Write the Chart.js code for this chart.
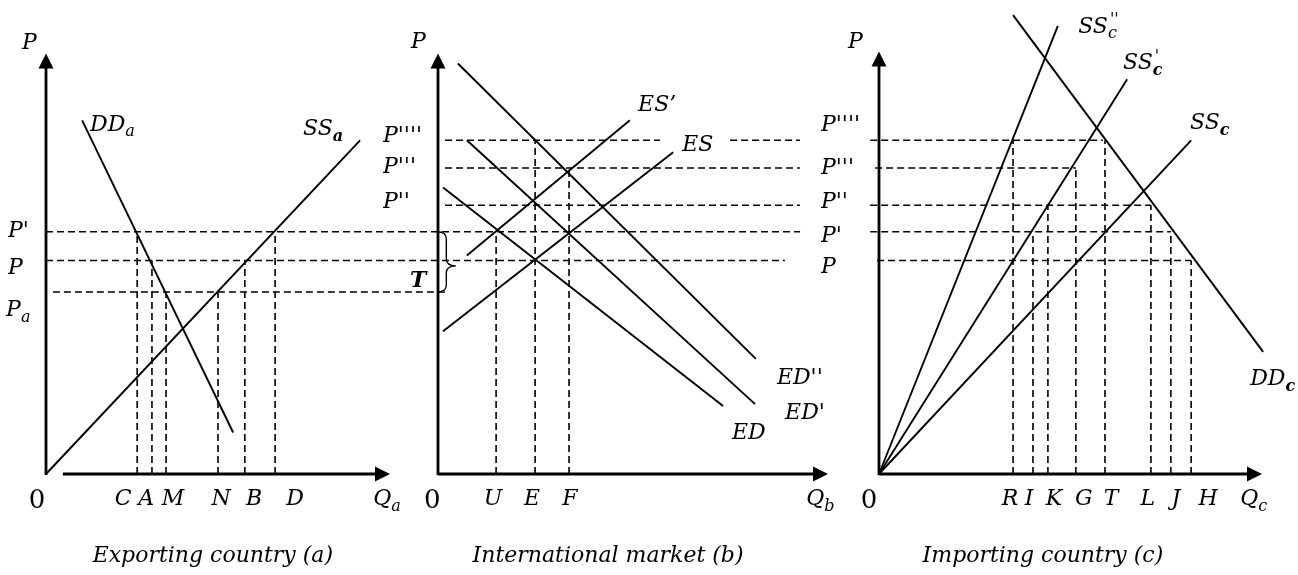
<!DOCTYPE html>
<html>
<head>
<meta charset="utf-8">
<script src="https://cdn.jsdelivr.net/npm/chart.js@4.4.1/dist/chart.umd.min.js"></script>
<style>
  body { margin: 0; background: #fff; }
  .wrap { position: relative; width: 1298px; height: 575px; }
  .wrap canvas { position: absolute; left: 0; top: 0; }
</style>
</head>
<body>
<div class="wrap">
  <canvas id="panelA" width="1298" height="575"></canvas>
  <canvas id="panelB" width="1298" height="575"></canvas>
  <canvas id="panelC" width="1298" height="575"></canvas>
</div>
<script>
// ---- panel (a): exporting country ----
var aSupply = [[0, 0], [91.3, 86.9]];           // SS_a
var aDemand = [[10.5, 92.1], [54.4, 10.8]];     // DD_a
// [price, from Q, to Q]
var aPriceLines = [[63.1, 0, 219.2], [55.6, 0, 214.8], [47.4, 2.0, 116.6]];
// [Q, up to price]
var aQtyLines = [[26.5, 63.1], [30.8, 55.6], [34.9, 47.4], [50.0, 47.4], [57.8, 55.6], [66.6, 63.1]];
var aTickNames = ['0', 'C', 'A', 'M', 'N', 'B', 'D'];
var aTickAt = [-2.6, 22.4, 29.1, 36.9, 50.9, 60.5, 72.4];
var aPriceNames = ["P'", 'P'];
var aPriceAt = [63.3, 53.6];
// [text, sub, sup, Q, P]
var aLabels = [['P', '', '', -7.0, 112.1], ['DD', 'a', '', 12.8, 90.8], ['SS', 'a', '', 74.7, 89.7],
               ['P', 'a', '', -11.6, 42.6], ['Q', 'a', '', 95.1, -6.7]];
var aTitle = ['Exporting country (a)', 48.5, -21.5];

// ---- panel (b): international market ----
var bSupply = [[1.3, 37.2], [60.3, 83.8]];      // ES
var bSupply1 = [[7.4, 56.9], [49.2, 92.1]];     // ES'
var bDemand = [[1.3, 74.6], [73.1, 17.7]];      // ED
var bDemand1 = [[7.4, 86.9], [81.3, 18.2]];     // ED'
var bDemand2 = [[5.1, 106.9], [81.5, 30.0]];    // ED''
var bPriceLines = [[86.9, 1.8, 56.9], [86.9, 74.9, 92.8], [79.7, 1.8, 92.8], [70.0, 1.8, 92.8]];
var bQtyLines = [[14.9, 63.1], [24.9, 86.9], [33.6, 79.7]];
var bTickNames = ['0', 'U', 'E', 'F'];
var bTickAt = [-1.5, 14.1, 24.1, 33.8];
var bPriceNames = ["P''''", "P'''", "P''"];
var bPriceAt = [87.9, 80.0, 70.8];
var bLabels = [['P', '', '', -6.9, 112.3], ['ES’', '', '', 51.3, 95.9], ['ES', '', '', 62.6, 85.6],
               ["ED''", '', '', 86.9, 24.9], ["ED'", '', '', 89.0, 15.9], ['ED', '', '', 75.4, 10.5],
               ['Q', 'b', '', 94.4, -6.7], ['T', '', '', -7.2, 50.3]];
var bTitle = ['International market (b)', 43.6, -21.5];

// ---- panel (c): importing country ----
var cSupply = [[0, 0], [81.5, 86.9]];           // SS_c
var cSupply1 = [[0, 0], [64.8, 102.8]];         // SS'_c
var cSupply2 = [[0, 0], [46.7, 116.7]];         // SS''_c
var cDemand = [[35.0, 119.5], [100.3, 31.8]];   // DD_c
var cPriceLines = [[86.9, -2.3, 58.5], [79.7, -1.0, 51.4], [70.0, -2.3, 71.0], [63.1, -2.3, 76.2], [55.6, -0.5, 81.5]];
var cQtyLines = [[35.0, 86.9], [40.2, 63.1], [44.1, 70.0], [51.4, 79.7], [59.0, 86.9], [71.0, 70.0], [76.2, 63.1], [81.5, 55.6]];
var cTickNames = ['0', 'R', 'I', 'K', 'G', 'T', 'L', 'J', 'H'];
var cTickAt = [-2.6, 34.2, 39.2, 45.7, 53.5, 60.6, 70.2, 77.5, 85.9];
var cPriceNames = ["P''''", "P'''", "P''", "P'", 'P'];
var cPriceAt = [90.8, 79.5, 70.8, 61.8, 53.8];
var cLabels = [['P', '', '', -8.1, 112.3], ['SS', 'c', "''", 52.0, 116.4], ['SS', 'c', "'", 63.7, 106.9],
               ['SS', 'c', '', 81.2, 91.3], ['DD', 'c', '', 96.9, 24.6], ['Q', 'c', '', 94.3, -6.7]];
var cTitle = ['Importing country (c)', 42.8, -21.5];

var FONT = '"DejaVu Serif", serif';
var boldLabel = { 'SSa': 1, 'SSc': 1, 'SScx': 1, 'DDc': 1 };

function pts(arr) {
	return arr.map(function(p){ return { x: p[0], y: p[1] }; });
}

function solid(arr) {
	return { data: pts(arr), showLine: true, borderColor: '#000', borderWidth: 1.9, pointRadius: 0, clip: false };
}

function dashedSets(priceLines, qtyLines) {
	var sets = [];
	priceLines.forEach(function(l){
		sets.push({ data: pts([[l[1], l[0]], [l[2], l[0]]]), showLine: true, borderColor: '#000',
			borderWidth: 1.6, borderDash: [7, 4], pointRadius: 0, clip: false });
	});
	qtyLines.forEach(function(l){
		sets.push({ data: pts([[l[0], 0], [l[0], l[1]]]), showLine: true, borderColor: '#000',
			borderWidth: 1.6, borderDash: [7, 4], pointRadius: 0, clip: false });
	});
	return sets;
}

function drawRich(ctx, px, py, lb) {
	var size = 22, small = 16;
	var key = lb[0] + lb[1] + (lb[2] ? 'x' : '');
	if (lb[2] === "''") key = 'none';
	var bold = boldLabel[key] ? 'bold ' : '';
	ctx.textAlign = 'left';
	ctx.textBaseline = 'middle';
	ctx.font = 'italic ' + (lb[0] === 'T' ? 'bold ' : '') + size + 'px ' + FONT;
	ctx.fillText(lb[0], px, py);
	var x = px + ctx.measureText(lb[0]).width;
	if (lb[1]) {
		ctx.font = 'italic ' + bold + small + 'px ' + FONT;
		ctx.fillText(lb[1], x, py + 7);
	}
	if (lb[2]) {
		ctx.font = 'italic ' + small + 'px ' + FONT;
		ctx.fillText(lb[2], x + 2, py - 7);
	}
}

var econPlugin = {
	id: 'econ',
	afterDatasetsDraw: function(chart, args, opts) {
		var ctx = chart.ctx, xs = chart.scales.x, ys = chart.scales.y;
		var X = function(v){ return xs.getPixelForValue(v); };
		var Y = function(v){ return ys.getPixelForValue(v); };
		ctx.save();
		ctx.strokeStyle = '#000';
		ctx.fillStyle = '#000';
		ctx.setLineDash([]);
		ctx.lineWidth = 2.8;

		var x0 = X(0), y0 = Y(0), yt = Y(opts.yTop), xr = X(100);
		ctx.beginPath(); ctx.moveTo(x0, y0 + 1); ctx.lineTo(x0, yt + 10); ctx.stroke();
		ctx.beginPath(); ctx.moveTo(x0, yt); ctx.lineTo(x0 - 7.5, yt + 15); ctx.lineTo(x0 + 7.5, yt + 15); ctx.closePath(); ctx.fill();
		ctx.beginPath(); ctx.moveTo(X(opts.xStart), y0); ctx.lineTo(xr - 10, y0); ctx.stroke();
		ctx.beginPath(); ctx.moveTo(xr, y0); ctx.lineTo(xr - 15, y0 - 7.5); ctx.lineTo(xr - 15, y0 + 7.5); ctx.closePath(); ctx.fill();

		// brace marking the gap T between P' and Pa
		if (opts.brace) {
			var bx = X(opts.brace[0]), w = 19;
			var y1 = Y(opts.brace[1]), y2 = Y(opts.brace[2]), ym = (y1 + y2) / 2 + 4, r = 7;
			ctx.lineWidth = 1.4;
			ctx.beginPath();
			ctx.moveTo(bx, y1);
			ctx.quadraticCurveTo(bx + w * 0.5, y1, bx + w * 0.5, y1 + r);
			ctx.lineTo(bx + w * 0.5, ym - r);
			ctx.quadraticCurveTo(bx + w * 0.5, ym, bx + w, ym);
			ctx.quadraticCurveTo(bx + w * 0.5, ym, bx + w * 0.5, ym + r);
			ctx.lineTo(bx + w * 0.5, y2 - r);
			ctx.quadraticCurveTo(bx + w * 0.5, y2, bx, y2);
			ctx.stroke();
		}

		opts.labels.forEach(function(lb){
			drawRich(ctx, X(lb[3]), Y(lb[4]), lb);
		});

		ctx.font = 'italic 22px ' + FONT;
		ctx.textAlign = 'center';
		ctx.textBaseline = 'middle';
		ctx.fillText(opts.title[0], X(opts.title[1]), Y(opts.title[2]));
		ctx.restore();
	}
};

Chart.defaults.color = '#000';

function tickFont(c) {
	if (c.tick && c.tick.label === '0') return { family: FONT, size: 26, style: 'normal' };
	return { family: FONT, size: 22, style: 'italic' };
}

function makePanel(id, cfg) {
	return new Chart(document.getElementById(id), {
		type: 'scatter',
		data: { datasets: dashedSets(cfg.priceLines, cfg.qtyLines).concat(cfg.curves.map(solid)) },
		options: {
			responsive: false,
			animation: false,
			events: [],
			layout: { autoPadding: false, padding: { left: cfg.padLeft, right: cfg.padRight, top: 6, bottom: 0 } },
			plugins: {
				legend: { display: false },
				tooltip: { enabled: false },
				econ: { yTop: cfg.yTop, xStart: cfg.xStart, labels: cfg.labels, title: cfg.title, brace: cfg.brace }
			},
			scales: {
				x: {
					type: 'linear', min: 0, max: 100,
					grid: { display: false, drawTicks: false },
					border: { display: false },
					afterFit: function(s){ s.height = 101; },
					afterBuildTicks: function(s){ s.ticks = cfg.tickAt.map(function(v){ return { value: v }; }); },
					ticks: {
						autoSkip: false, maxRotation: 0, padding: 12,
						font: tickFont,
						callback: function(v, i){ return cfg.tickNames[i]; }
					}
				},
				y: {
					type: 'linear', min: 0, max: 120,
					grid: { display: false, drawTicks: false },
					border: { display: false },
					afterFit: function(s){ s.width = cfg.yWidth; },
					afterBuildTicks: function(s){ s.ticks = cfg.priceAt.map(function(v){ return { value: v }; }); },
					ticks: {
						autoSkip: false, crossAlign: 'far', padding: 0,
						font: { family: FONT, size: 22, style: 'italic' },
						callback: function(v, i){ return cfg.priceNames[i]; }
					}
				}
			}
		},
		plugins: [econPlugin]
	});
}

makePanel('panelA', {
	padLeft: 8, yWidth: 38, padRight: 908, yTop: 109.5, xStart: 4.9,
	priceLines: aPriceLines, qtyLines: aQtyLines, curves: [aSupply, aDemand],
	tickAt: aTickAt, tickNames: aTickNames, priceAt: aPriceAt, priceNames: aPriceNames,
	labels: aLabels, title: aTitle
});

makePanel('panelB', {
	padLeft: 383, yWidth: 55, padRight: 470, yTop: 109.5, xStart: 0,
	priceLines: bPriceLines, qtyLines: bQtyLines, curves: [bSupply, bSupply1, bDemand, bDemand1, bDemand2],
	tickAt: bTickAt, tickNames: bTickNames, priceAt: bPriceAt, priceNames: bPriceNames,
	labels: bLabels, title: bTitle, brace: [-0.3, 63.1, 47.4]
});

makePanel('panelC', {
	padLeft: 821, yWidth: 58, padRight: 36, yTop: 110, xStart: 0,
	priceLines: cPriceLines, qtyLines: cQtyLines, curves: [cSupply, cSupply1, cSupply2, cDemand],
	tickAt: cTickAt, tickNames: cTickNames, priceAt: cPriceAt, priceNames: cPriceNames,
	labels: cLabels, title: cTitle
});
</script>
</body>
</html>
